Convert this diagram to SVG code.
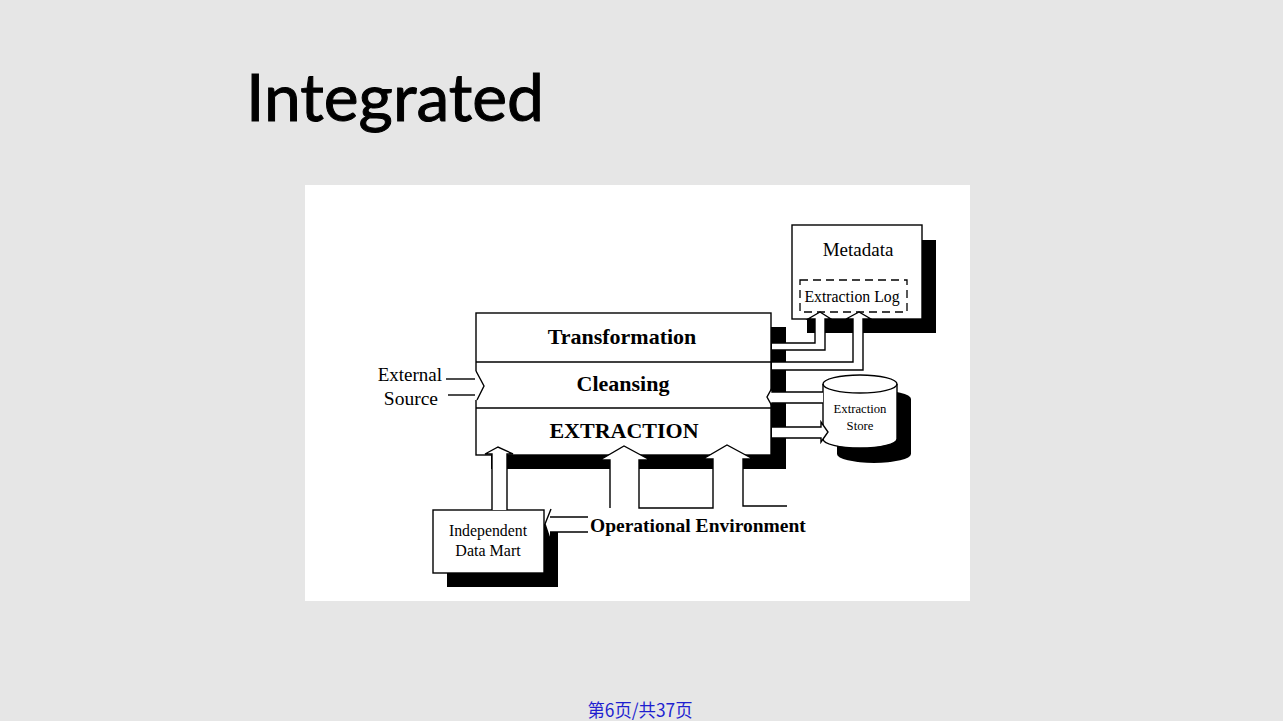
<svg xmlns="http://www.w3.org/2000/svg" width="1283" height="721" viewBox="0 0 1283 721">
<defs>
<style>
.ln{stroke:#000;stroke-width:1.4;fill:none}
.bx{stroke:#000;stroke-width:1.4;fill:#fff}
.wf{fill:#fff;stroke:none}
.sh{fill:#000}
.sr{font-family:"Liberation Serif","Times New Roman",serif;fill:#000}
.b{font-weight:bold}
</style>
</defs>
<rect x="0" y="0" width="1283" height="721" fill="#e6e6e6"/>
<rect x="305" y="185" width="665" height="416" fill="#fff"/>
<text x="246" y="121" font-family="Lato,'Open Sans',sans-serif" font-size="65" textLength="298" lengthAdjust="spacingAndGlyphs" fill="#000" stroke="#000" stroke-width="1">Integrated</text>

<g id="main-stack">
<rect class="sh" x="491" y="327" width="295" height="142"/>
<rect class="bx" x="476" y="313" width="295" height="142"/>
<line class="ln" x1="476" y1="362" x2="771" y2="362"/>
<line class="ln" x1="476" y1="408" x2="771" y2="408"/>
<text class="sr b" x="622" y="344" font-size="22" text-anchor="middle">Transformation</text>
<text class="sr b" x="623" y="391" font-size="22" text-anchor="middle">Cleansing</text>
<text class="sr b" x="624" y="438" font-size="22" text-anchor="middle">EXTRACTION</text>
</g>

<g id="metadata">
<rect class="sh" x="807" y="240" width="129" height="93"/>
<rect class="bx" x="792" y="225" width="130" height="94"/>
<rect x="800" y="280" width="107" height="32" fill="none" stroke="#000" stroke-width="1.3" stroke-dasharray="8 5"/>
<text class="sr" x="858" y="256" font-size="19" text-anchor="middle">Metadata</text>
<text class="sr" x="852" y="302" font-size="15.8" text-anchor="middle">Extraction Log</text>
</g>

<g id="extraction-store">
<path class="sh" d="M837,399 A37,9 0 0 1 911,399 L911,454 A37,9 0 0 1 837,454 Z"/>
<path class="bx" d="M823,384 A37,9 0 0 1 897,384 L897,439 A37,9 0 0 1 823,439 Z"/>
<path class="ln" d="M823,384 A37,9 0 0 0 897,384"/>
<text class="sr" x="860" y="413" font-size="12.7" text-anchor="middle">Extraction</text>
<text class="sr" x="860" y="430" font-size="12.7" text-anchor="middle">Store</text>
</g>

<g id="data-mart">
<rect class="sh" x="447" y="524" width="111" height="63"/>
<rect class="bx" x="433" y="510" width="111" height="63"/>
<text class="sr" x="488" y="536" font-size="15.8" text-anchor="middle">Independent</text>
<text class="sr" x="488" y="556" font-size="16" text-anchor="middle">Data Mart</text>
</g>

<g id="external-source">
<text class="sr" x="442" y="381" font-size="19" text-anchor="end">External</text>
<text class="sr" x="438" y="405" font-size="19.5" text-anchor="end">Source</text>
</g>

<g id="operational-environment">
<text class="sr b" x="590" y="532" font-size="19.5">Operational Environment</text>
</g>

<g id="connectors">
<polygon class="wf" points="473,371 476,371 484,386 477,400 473,400"/>
<line class="ln" x1="446" y1="379" x2="475" y2="379"/>
<line class="ln" x1="448" y1="395" x2="475" y2="395"/>
<polyline class="ln" points="476,371 484,386 477,400"/>

<polygon class="wf" points="772,343 815,343 815,319 808,319 820,312 831,319 825,319 825,350 772,350"/>
<polyline class="ln" points="771,343 815,343 815,319 808,319 820,312 831,319 825,319 825,350 771,350"/>

<polygon class="wf" points="772,362 853,362 853,319 846,319 859,312 871,319 863,319 863,370 772,370"/>
<polyline class="ln" points="771,362 853,362 853,319 846,319 859,312 871,319 863,319 863,370 771,370"/>

<polygon class="wf" points="772,388 767,397 772,406 772,403 823,403 823,392 772,392"/>
<polyline class="ln" points="823,392 772,392 772,388 767,397 772,406 772,403 823,403"/>

<polygon class="wf" points="772,427 821,427 821,422 828,432 821,442 821,438 772,438"/>
<polyline class="ln" points="771,427 821,427 821,422 828,432 821,442 821,438 771,438"/>

<polygon class="wf" points="492,510 492,454 485,454 498,447 513,454 507,454 507,510"/>
<polyline class="ln" points="492,510 492,454 485,454 498,447 513,454 507,454 507,510"/>

<polygon class="wf" points="610,508 610,460 600,460 624,446 650,460 639,460 639,508"/>
<polygon class="wf" points="713,508 713,459 703,459 727,445 753,459 743,459 743,506 787,506 787,508"/>
<polyline class="ln" points="610,508 610,460 600,460 624,446 650,460 639,460 639,508 713,508 713,459 703,459 727,445 753,459 743,459 743,506 787,506"/>

<polygon class="wf" points="551,509 545,524 550,539 550,532 588,532 588,517 550,517"/>
<polyline class="ln" points="551,509 545,524 550,539"/>
<line class="ln" x1="550" y1="517" x2="588" y2="517"/>
<line class="ln" x1="550" y1="532" x2="588" y2="532"/>
</g>

<text x="640" y="717" font-family="'Noto Sans CJK SC','Liberation Sans',sans-serif" font-size="18" text-anchor="middle" textLength="105" lengthAdjust="spacingAndGlyphs" fill="#1f1fd0">第6页/共37页</text>
</svg>
